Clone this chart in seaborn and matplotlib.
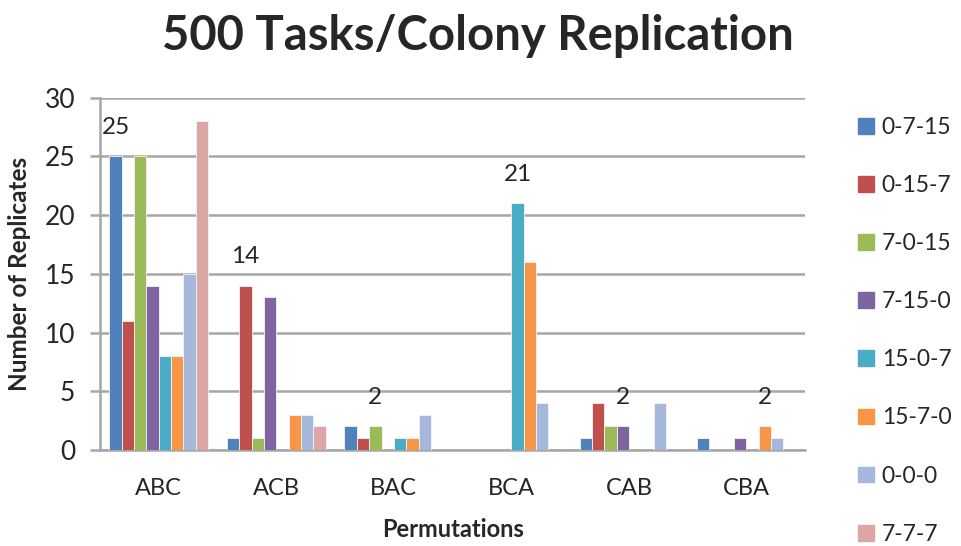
import numpy as np
import pandas as pd
import seaborn as sns
import matplotlib.pyplot as plt

permutations = ['ABC', 'ACB', 'BAC', 'BCA', 'CAB', 'CBA']
series = ['0-7-15', '0-15-7', '7-0-15', '7-15-0', '15-0-7', '15-7-0', '0-0-0', '7-7-7']
values = {
    '0-7-15': [25, 1, 2, 0, 1, 1],
    '0-15-7': [11, 14, 1, 0, 4, 0],
    '7-0-15': [25, 1, 2, 0, 2, 0],
    '7-15-0': [14, 13, 0, 0, 2, 1],
    '15-0-7': [8, 0, 1, 21, 0, 0],
    '15-7-0': [8, 3, 1, 16, 0, 2],
    '0-0-0': [15, 3, 3, 4, 4, 1],
    '7-7-7': [28, 2, 0, 0, 0, 0],
}
# labelled bar in each group: (permutation, series)
labels = [('ABC', '0-7-15'), ('ACB', '0-15-7'), ('BAC', '7-0-15'),
          ('BCA', '15-0-7'), ('CAB', '7-15-0'), ('CBA', '15-7-0')]
colors = ['#4F81BD', '#C0504D', '#9BBB59', '#8064A2', '#4BACC6', '#F79646',
          '#A5B8DB', '#DCA6A4']

df = pd.DataFrame([(p, s, values[s][i]) for s in series for i, p in enumerate(permutations)],
                  columns=['perm', 'series', 'n'])

sns.set_style('white')
plt.rcParams['font.family'] = ['Lato', 'DejaVu Sans']

fig = plt.figure(figsize=(9.62, 5.46), dpi=100)
ax = fig.add_axes([0.104, 0.176, 0.733, 0.645])

sns.barplot(data=df, x='perm', y='n', hue='series', hue_order=series, order=permutations,
            palette=colors, saturation=1, width=0.84, gap=0, ax=ax, legend=False,
            edgecolor='#F4F4F4', linewidth=0.6, zorder=3)

ax.set_ylim(0, 30)
ax.set_xlim(-0.5, 5.5)
ax.set_yticks(range(0, 31, 5))
ax.grid(axis='y', color='#A6A6A6', linewidth=1.8, zorder=0)
ax.set_axisbelow(True)
for side in ['top', 'right']:
    ax.spines[side].set_visible(False)
for side in ['left', 'bottom']:
    ax.spines[side].set_color('#A6A6A6')
    ax.spines[side].set_linewidth(1.8)

ax.set_xticks(np.arange(-0.5, 6, 1), minor=True)
ax.tick_params(axis='x', which='major', length=0, labelsize=17, pad=20)
ax.tick_params(axis='x', which='minor', length=9, width=1.8, color='#A6A6A6', direction='out')
ax.tick_params(axis='y', length=7, width=1.8, color='#A6A6A6', direction='out',
               left=True, labelsize=19, pad=11)

n = len(series)
bw = 0.84 / n
for perm, s in labels:
    i = permutations.index(perm)
    j = series.index(s)
    x = i - 0.42 + bw * (j + 0.5)
    v = values[s][i]
    ax.annotate(str(v), (x, v), xytext=(0, 21), textcoords='offset points',
                ha='center', va='center', fontsize=17.5)

ax.set_xlabel('Permutations', fontsize=17, fontweight='bold', labelpad=14)
ax.set_ylabel('Number of Replicates', fontsize=17.5, fontweight='bold', labelpad=10)

fig.suptitle('500 Tasks/Colony Replication', fontsize=34, fontweight='bold', x=0.497, y=0.975)

handles = [plt.Rectangle((0, 0), 1, 1, color=c) for c in colors]
fig.legend(handles, series, loc='upper left', bbox_to_anchor=(0.892, 0.786), frameon=False,
           fontsize=16.5, handlelength=0.68, handleheight=0.68, handletextpad=0.35,
           labelspacing=1.62, borderaxespad=0, borderpad=0)

fig.savefig('out.png', dpi=100)
